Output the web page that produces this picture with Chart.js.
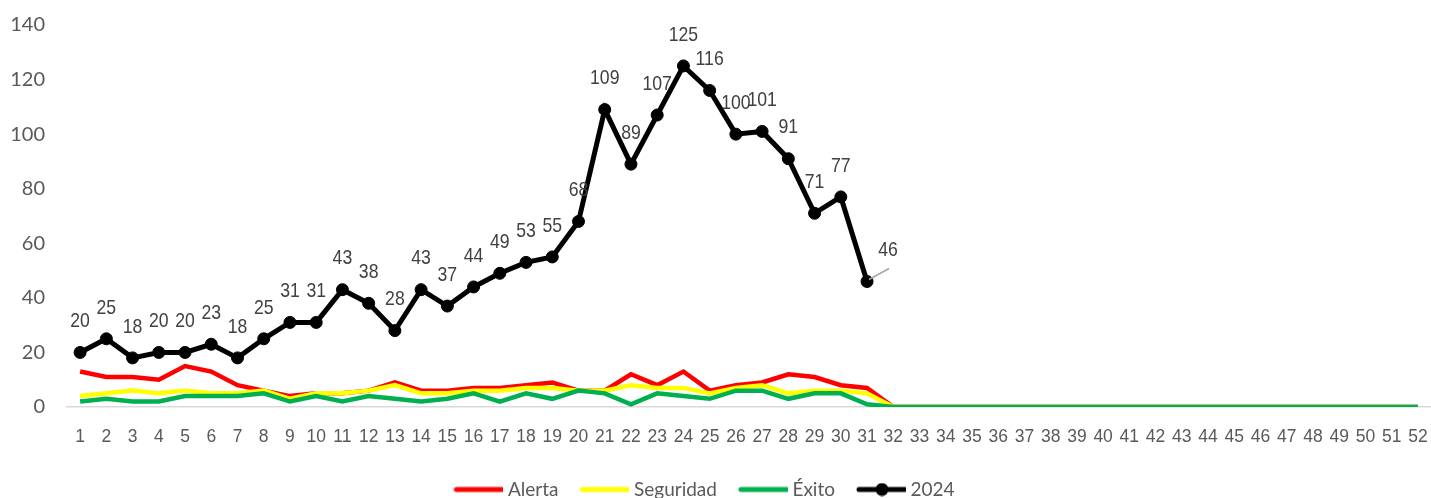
<!DOCTYPE html>
<html>
<head>
<meta charset="utf-8">
<script src="https://cdn.jsdelivr.net/npm/chart.js@4.4.1/dist/chart.umd.min.js"></script>
<style>
  html, body { margin: 0; padding: 0; background: #fff; overflow: hidden; }
  body { width: 1431px; height: 498px; }
  #wrap { width: 1431px; height: 509px; position: relative; }
</style>
</head>
<body>
<div id="wrap"><canvas id="chart"></canvas></div>
<script>
// weeks
const weeks = ['1','2','3','4','5','6','7','8','9','10','11','12','13','14','15','16','17','18','19','20',
  '21','22','23','24','25','26','27','28','29','30','31','32','33','34','35','36','37','38','39','40',
  '41','42','43','44','45','46','47','48','49','50','51','52'];

const alerta = [13, 11, 11, 10, 15, 13, 8, 6, 4, 5, 5, 6, 9, 6, 6, 7, 7, 8, 9, 6,
  6, 12, 8, 13, 6, 8, 9, 12, 11, 8, 7, 0, 0, 0, 0, 0, 0, 0, 0, 0,
  0, 0, 0, 0, 0, 0, 0, 0, 0, 0, 0, 0];

const seguridad = [4, 5, 6, 5, 6, 5, 5, 6, 3, 5, 5, 6, 8, 5, 5, 6, 6, 7, 7, 6,
  6, 8, 7, 7, 5, 7, 8, 5, 6, 6, 5, 0, 0, 0, 0, 0, 0, 0, 0, 0,
  0, 0, 0, 0, 0, 0, 0, 0, 0, 0, 0, 0];

const exito = [2, 3, 2, 2, 4, 4, 4, 5, 2, 4, 2, 4, 3, 2, 3, 5, 2, 5, 3, 6,
  5, 1, 5, 4, 3, 6, 6, 3, 5, 5, 1, 0, 0, 0, 0, 0, 0, 0, 0, 0,
  0, 0, 0, 0, 0, 0, 0, 0, 0, 0, 0, 0];

const y2024 = [20, 25, 18, 20, 20, 23, 18, 25, 31, 31, 43, 38, 28, 43, 37, 44, 49, 53, 55, 68,
  109, 89, 107, 125, 116, 100, 101, 91, 71, 77, 46, null, null, null, null, null, null, null, null, null,
  null, null, null, null, null, null, null, null, null, null, null, null];

const yTicks = [0, 20, 40, 60, 80, 100, 120, 140];

// legend swatch: a thick line, with a dot for the 2024 series
function swatch(color, dot) {
  const c = document.createElement('canvas');
  c.width = 50; c.height = 14;
  const g = c.getContext('2d');
  g.strokeStyle = color;
  g.lineWidth = 5;
  g.lineCap = 'round';
  g.beginPath(); g.moveTo(3, 7); g.lineTo(49, 7); g.stroke();
  if (dot) {
    g.fillStyle = color;
    g.beginPath(); g.arc(26, 7, 6.5, 0, Math.PI * 2); g.fill();
  }
  return c;
}

// value labels above the 2024 points (last one nudged right with a leader line)
const pointLabels = {
  id: 'pointLabels',
  afterDatasetsDraw(chart) {
    const meta = chart.getDatasetMeta(3);
    const ctx = chart.ctx;
    const sx = 0.84;
    ctx.save();
    ctx.font = '21px "Liberation Sans", Arial, sans-serif';
    ctx.fillStyle = '#404040';
    ctx.textAlign = 'center';
    ctx.textBaseline = 'middle';
    meta.data.forEach((pt, i) => {
      const v = y2024[i];
      if (v === null || pt.skip) return;
      let dx = 0;
      if (i === 30) {
        dx = 21;
        ctx.strokeStyle = '#a6a6a6';
        ctx.lineWidth = 1.5;
        ctx.beginPath();
        ctx.moveTo(pt.x + 2, pt.y - 2);
        ctx.lineTo(pt.x + 22, pt.y - 13);
        ctx.stroke();
      }
      ctx.save();
      ctx.translate(pt.x + dx, pt.y - 31);
      ctx.scale(sx, 1);
      ctx.fillText(String(v), 0, 0);
      ctx.restore();
    });
    ctx.restore();
  }
};

// nudge the legend a bit left of centre, like the original
const legendShift = {
  id: 'legendShift',
  afterLayout(chart) {
    chart.legend.left -= 9;
    chart.legend.right -= 9;
  }
};

new Chart(document.getElementById('chart'), {
  type: 'line',
  data: {
    labels: weeks,
    datasets: [
      { label: 'Alerta', data: alerta, borderColor: '#ff0000', backgroundColor: '#ff0000',
        borderWidth: 4.5, pointRadius: 0, order: 3, pointStyle: swatch('#ff0000', false) },
      { label: 'Seguridad', data: seguridad, borderColor: '#ffff00', backgroundColor: '#ffff00',
        borderWidth: 4.5, pointRadius: 0, order: 2, pointStyle: swatch('#ffff00', false) },
      { label: 'Éxito', data: exito, borderColor: '#00b050', backgroundColor: '#00b050',
        borderWidth: 4.5, pointRadius: 0, order: 1, pointStyle: swatch('#00b050', false) },
      { label: '2024', data: y2024, borderColor: '#000000', backgroundColor: '#000000',
        borderWidth: 5, pointRadius: 6, pointBorderWidth: 1, order: 0,
        pointStyle: 'circle', spanGaps: false }
    ]
  },
  options: {
    responsive: true,
    maintainAspectRatio: false,
    animation: false,
    layout: { autoPadding: false, padding: { top: 25, right: 0, left: 0, bottom: 0 } },
    plugins: {
      tooltip: { enabled: false },
      legend: {
        position: 'bottom',
        labels: {
          usePointStyle: true,
          pointStyleWidth: 40,
          padding: 26,
          color: '#595959',
          font: { family: 'Lato', size: 19 },
          generateLabels(chart) {
            return chart.data.datasets.map((ds, i) => ({
              text: ds.label,
              fillStyle: ds.borderColor,
              strokeStyle: ds.borderColor,
              fontColor: '#595959',
              lineWidth: 0,
              hidden: false,
              datasetIndex: i,
              pointStyle: i === 3 ? swatch('#000000', true) : ds.pointStyle
            }));
          }
        }
      }
    },
    scales: {
      x: {
        offset: true,
        grid: { display: false, drawTicks: true, tickLength: 20 },
        border: { display: true, color: '#d9d9d9', width: 1.5 },
        ticks: {
          autoSkip: false, maxRotation: 0, padding: 0,
          color: '#595959',
          font: { family: '"Liberation Sans", Arial, sans-serif', size: 17.5 }
        },
        afterFit(scale) {
          scale.height = 47;
          scale.paddingLeft = 0;
          scale.paddingRight = 0;
        }
      },
      y: {
        min: 0, max: 140,
        afterBuildTicks(scale) { scale.ticks = yTicks.map(v => ({ value: v })); },
        grid: { display: false, drawTicks: true, tickLength: 22 },
        border: { display: false },
        ticks: {
          padding: 0,
          color: '#595959',
          font: { family: 'Lato', size: 20 }
        },
        afterFit(scale) { scale.width = 67; }
      }
    }
  },
  plugins: [pointLabels, legendShift]
});
</script>
</body>
</html>
